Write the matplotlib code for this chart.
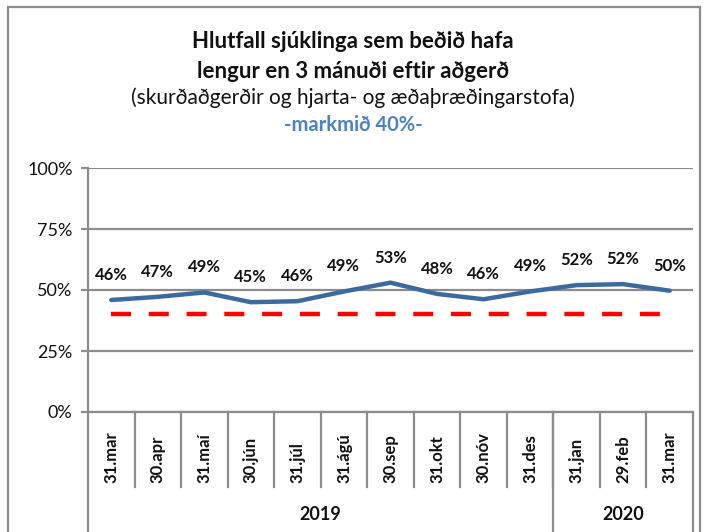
import matplotlib
matplotlib.use("Agg")
import matplotlib.pyplot as plt
import matplotlib.transforms as mtransforms
from matplotlib.patches import Rectangle

plt.rcParams['font.family'] = ['Lato', 'DejaVu Sans']

# data
dates = ['31.mar', '30.apr', '31.maí', '30.jún', '31.júl', '31.ágú', '30.sep',
         '31.okt', '30.nóv', '31.des', '31.jan', '29.feb', '31.mar']
years = ['2019', '2020']
year_counts = [10, 3]
values = [45.9, 47.2, 49.0, 45.0, 45.4, 49.4, 53.0, 48.4, 46.2, 49.4, 52.0, 52.4, 49.7]
labels = ['46%', '47%', '49%', '45%', '46%', '49%', '53%', '48%', '46%', '49%', '52%', '52%', '50%']
target = 40
yticks = [0, 25, 50, 75, 100]

grid_col = '#8c8c8c'
line_col = '#3d6a9e'

fig = plt.figure(figsize=(7.06, 5.32), dpi=100)
ax = fig.add_axes([88/706, 120/532, 605/706, 244/532])

x = list(range(len(dates)))
ax.plot(x, values, color=line_col, lw=3.2, solid_capstyle='round', zorder=3)
ax.plot(x, [target]*len(x), color='#ff0000', lw=3.2, dashes=(4.5, 4), zorder=2)

for xi, v, lab in zip(x, values, labels):
    ax.annotate(lab, (xi, v), xytext=(0, 18), textcoords='offset points',
                ha='center', va='center', fontsize=12, fontweight='bold', color='#111111')

ax.set_xlim(-0.5, len(dates) - 0.5)
ax.set_ylim(0, 100)
ax.set_yticks(yticks)
ax.set_yticklabels([f'{t}%' for t in yticks], fontsize=13, color='#111111')
ax.yaxis.grid(True, color=grid_col, lw=1.6)
ax.set_axisbelow(True)
ax.tick_params(axis='y', length=5, color=grid_col, width=1.6, pad=6)
ax.set_xticks([])
for s in ['top', 'right']:
    ax.spines[s].set_visible(False)
ax.spines['left'].set_color(grid_col)
ax.spines['left'].set_linewidth(1.6)
ax.spines['bottom'].set_color(grid_col)
ax.spines['bottom'].set_linewidth(1.6)

trans = mtransforms.blended_transform_factory(ax.transData, ax.transAxes)
ph = 244.0
# category labels and boundaries
for xi, d in zip(x, dates):
    ax.text(xi, -(483 - 412)/ph, d, transform=trans, rotation=90, ha='center', va='bottom',
            fontsize=12, fontweight='bold', color='#111111')
for b in range(1, len(dates)):
    ax.plot([b - 0.5, b - 0.5], [0, -(487 - 412)/ph], transform=trans, color=grid_col,
            lw=1.6, clip_on=False)
# year groups
start = -0.5
seps = [start]
for yr, n in zip(years, year_counts):
    ax.text(start + n/2, -(515 - 412)/ph, yr, transform=trans, ha='center', va='center',
            fontsize=13, fontweight='bold', color='#111111')
    start += n
    seps.append(start)
for s in seps:
    ax.plot([s, s], [0, -(540 - 412)/ph], transform=trans, color=grid_col, lw=1.6, clip_on=False)

# titles
fig.text(0.5, 1 - 41/532, 'Hlutfall sjúklinga sem beðið hafa', ha='center', va='center',
         fontsize=16, fontweight='bold', color='#111111')
fig.text(0.5, 1 - 71/532, 'lengur en 3 mánuði eftir aðgerð', ha='center', va='center',
         fontsize=16, fontweight='bold', color='#111111')
fig.text(0.5, 1 - 98/532, '(skurðaðgerðir og hjarta- og æðaþræðingarstofa)', ha='center',
         va='center', fontsize=15, color='#111111')
fig.text(0.5, 1 - 125/532, '-markmið 40%-', ha='center', va='center', fontsize=14.5,
         fontweight='bold', color='#4f81bd')

# outer chart frame
fig.patches.append(Rectangle((8/706, -0.05), 692/706, 1.05 - 7/532, transform=fig.transFigure,
                             fill=False, edgecolor='#8c8c8c', lw=1.6))

fig.savefig('out.png', dpi=100)
